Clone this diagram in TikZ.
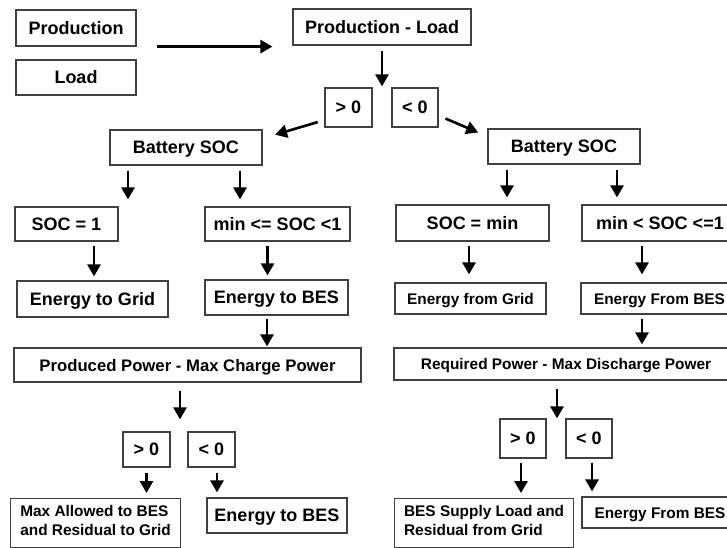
\documentclass[tikz,border=0pt]{standalone}
\usepackage{fontspec}
\setmainfont{Liberation Sans}
\usepackage{tikz}
\usetikzlibrary{calc,arrows.meta}
\tikzset{
  fbase/.style={rectangle, draw=black!75, line width=1.2pt, fill=white, inner sep=0pt},
  fbox/.style ={fbase, text height=12.8pt, text depth=0pt,
                font=\bfseries\fontsize{18}{20}\selectfont},
  fboxm/.style={fbox, text height=12pt, font=\bfseries\fontsize{16.7}{19}\selectfont},
  fboxs/.style={fbox, text height=11pt, font=\bfseries\fontsize{15.4}{18.5}\selectfont},
  fboxtwo/.style={fbase, anchor=north west, minimum height=49pt, text height=11pt, text depth=24pt,
                  font=\bfseries\fontsize{15.4}{18.5}\selectfont},
  farr/.style ={-{Triangle[length=12pt,width=13pt]}, line width=2.6pt, black},
}
\begin{document}
\begin{tikzpicture}[x=1pt, y=-1pt,
    cond/.style={fbox, minimum width=47pt, minimum height=39pt}]
  \path[use as bounding box, fill=white] (0,0) rectangle (727,547);
  \node[fbox, minimum width=120pt, minimum height=36pt] (prod) at (76,28) {Production};
  \node[fbox, minimum width=120pt, minimum height=35pt] (load) at (76,77.5) {Load};
  \node[fbox, minimum width=178pt, minimum height=36pt] (diff) at (382,27) {Production - Load};
  \node[cond] (posA) at (348.5,107.5) {> 0};
  \node[cond, minimum width=46pt] (negA) at (415,107.5) {< 0};
  \node[fbox, minimum width=152pt, minimum height=35pt] (socL) at (186,147.5) {Battery SOC};
  \node[fbox, minimum width=152pt, minimum height=35pt] (socR) at (564,146.5) {Battery SOC};
  \node[fbox, minimum width=103pt, minimum height=34pt] (full) at (66.5,224) {SOC = 1};
  \node[fbox, minimum width=145pt, minimum height=34pt] (part) at (277.5,224) {min <= SOC <1};
  \node[fbox, minimum width=153pt, minimum height=36pt] (empty) at (472.5,223) {SOC = min};
  \node[fbox, minimum width=156pt, minimum height=36pt] (avail) at (660,223) {min < SOC <=1};
  \node[fbox, minimum width=151pt, minimum height=36pt] (toGrid) at (92.5,299) {Energy to Grid};
  \node[fbox, minimum width=143pt, minimum height=35pt] (toBES) at (276.5,297.5) {Energy to BES};
  \node[fboxs, minimum width=151pt, minimum height=31pt] (fromGrid) at (470.5,298.5) {Energy from Grid};
  \node[fboxs, minimum width=157pt, minimum height=31pt] (fromBES) at (659.5,298.5) {Energy From BES};
  \node[fboxm, minimum width=347pt, minimum height=34pt] (chg) at (187.5,365) {Produced Power - Max Charge Power};
  \node[fboxs, minimum width=344pt, minimum height=32pt] (dis) at (566,364) {Required Power - Max Discharge Power};
  \node[cond, minimum height=35pt] (posB) at (146.5,449.5) {> 0};
  \node[cond, minimum height=35pt] (negB) at (211.5,449.5) {< 0};
  \node[fboxtwo, minimum width=170pt] (overB) at (10,498)
    {\begin{tabular}[t]{@{}l@{}}Max Allowed to BES\\and Residual to Grid\end{tabular}};
  \node[fbox, minimum width=140pt, minimum height=35pt] (chgBES) at (277,515.5) {Energy to BES};
  \node[cond, minimum width=46pt] (posC) at (523,438.5) {> 0};
  \node[cond, minimum width=46pt] (negC) at (589,438.5) {< 0};
  \node[fboxtwo, minimum width=179pt] (supply) at (394,498)
    {\begin{tabular}[t]{@{}l@{}}BES Supply Load and\\Residual from Grid\end{tabular}};
  \node[fboxs, minimum width=156pt, minimum height=31pt] (disBES) at (660,512.5) {Energy From BES};
  \draw[farr] ([xshift=20pt]prod.south east) -- ([xshift=-20pt]prod.south east -| diff.west);
  \draw[farr, shorten <=7pt, shorten >=13pt] ([yshift=7.5pt]posA.south west) -- ([yshift=-9pt]socL.north east);
  \draw[farr, shorten <=7.5pt, shorten >=10pt] ([yshift=12pt]negA.south east) -- ([yshift=-8pt]socR.north west);
  \foreach \src/\dx/\dst/\sa/\sb in {diff/0/posA/5/1, socL/-58/full/5/7, socL/54/part/5/7,
      socR/-57/empty/5/7, socR/53/avail/5/7, full/27.5/toGrid/4/4, part/-10/toBES/4/4,
      toBES/-9.5/chg/3/1, empty/-3.5/fromGrid/4/8, avail/-18/fromBES/4/8,
      fromBES/-17.5/dis/4/3, chg/-7.5/posB/8/12, dis/-9/posC/8/0,
      posB/0/overB/5/5, negB/5.5/chgBES/5/5, posC/-2/supply/4/5, negC/3/disBES/4/5}
    \draw[farr, shorten <=\sa pt, shorten >=\sb pt] ([xshift=\dx pt]\src.south) -- ([xshift=\dx pt]\src.south |- \dst.north);
\end{tikzpicture}
\end{document}
